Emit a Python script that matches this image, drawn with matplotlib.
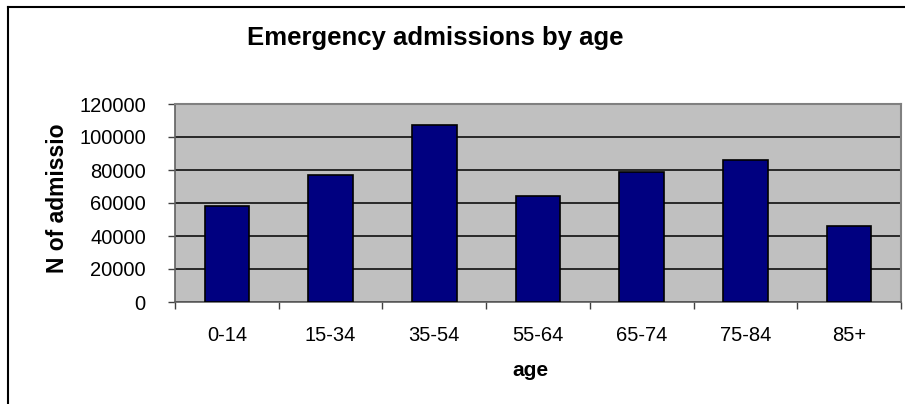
import matplotlib
matplotlib.use("Agg")
import matplotlib.pyplot as plt
from matplotlib.lines import Line2D
import numpy as np

# Emergency admissions per age band
age_groups = ["0-14", "15-34", "35-54", "55-64", "65-74", "75-84", "85+"]
admissions = [58000, 77000, 107000, 64000, 79000, 86000, 46000]
y_ticks = [0, 20000, 40000, 60000, 80000, 100000, 120000]

plt.rcParams["font.family"] = ["Liberation Sans", "DejaVu Sans"]

W, H = 905, 404
fig = plt.figure(figsize=(W / 100, H / 100), dpi=100)
fig.patch.set_facecolor("white")

# plot area in pixel terms
left, right, top, bottom = 175, 901, 104, 302
ax = fig.add_axes([left / W, 1 - bottom / H, (right - left) / W, (bottom - top) / H])
ax.set_facecolor("#C0C0C0")

x = np.arange(len(age_groups))
ax.bar(x, admissions, width=0.43, color="#000080", edgecolor="black",
       linewidth=1.2, zorder=3)

ax.set_xlim(-0.5, len(age_groups) - 0.5)
ax.set_ylim(0, 120000)

# horizontal gridlines
ax.set_yticks(y_ticks)
ax.set_yticklabels([str(v) for v in y_ticks])
ax.yaxis.grid(True, color="black", linewidth=1.1, zorder=1)
ax.set_axisbelow(True)

# category labels at centres, tick marks at category boundaries
ax.set_xticks(x)
ax.set_xticklabels(age_groups)
ax.set_xticks(np.arange(-0.5, len(age_groups)), minor=True)
ax.tick_params(axis="x", which="major", length=0, pad=17, labelsize=14.5)
ax.tick_params(axis="x", which="minor", length=5, width=1, color="#404040",
               direction="out")
ax.tick_params(axis="y", length=5, width=1, color="#404040", pad=16,
               labelsize=14.5)

for side in ["top", "right"]:
    ax.spines[side].set_color("#808080")
    ax.spines[side].set_linewidth(1.5)
ax.spines["left"].set_color("#606060")
ax.spines["bottom"].set_color("#606060")
ax.spines["left"].set_linewidth(1.2)
ax.spines["bottom"].set_linewidth(1.2)

ax.set_xlabel("age", fontsize=15, fontweight="bold")
ax.xaxis.set_label_coords(0.49, (bottom - 370) / (bottom - top))
ax.xaxis.label.set_va("center")

ax.set_ylabel("N of admissio", fontsize=16.5, fontweight="bold")
ax.yaxis.set_label_coords((57 - left) / (right - left), 0.525)
ax.yaxis.label.set_va("center")

fig.text(435 / W, 1 - 38 / H, "Emergency admissions by age",
         fontsize=18.5, fontweight="bold", ha="center", va="center")

# chart frame around the whole figure area
fig.add_artist(Line2D([8 / W, 8 / W], [0, 1 - 7 / H], color="black",
                      linewidth=1.5, transform=fig.transFigure))
fig.add_artist(Line2D([8 / W, 1], [1 - 7 / H, 1 - 7 / H], color="black",
                      linewidth=1.5, transform=fig.transFigure))

fig.savefig("out.png", dpi=100)
